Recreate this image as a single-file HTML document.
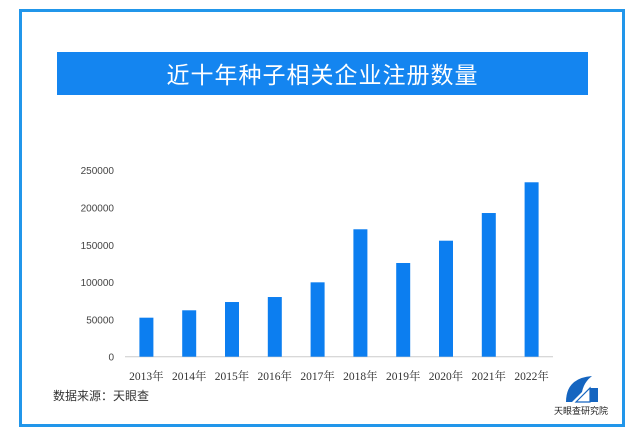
<!DOCTYPE html>
<html><head><meta charset="utf-8"><style>
body{margin:0;width:644px;height:431px;background:#fff;overflow:hidden;font-family:"Liberation Sans","Noto Sans CJK SC",sans-serif;}
#frame{position:absolute;left:19px;top:9px;width:600px;height:412px;border:3px solid #2196ea;}
#title{position:absolute;left:57px;top:52px;width:531px;height:43px;background:#1485f0;color:#fff;font-size:23px;line-height:43px;text-align:center;font-family:"Noto Sans CJK SC",sans-serif;letter-spacing:1px;}
svg{position:absolute;left:0;top:0;}
</style></head><body>
<div id="frame"></div>
<div id="title">近十年种子相关企业注册数量</div>
<svg id="chart" width="644" height="431">
<text x="53" y="400" font-size="12" fill="#333" font-family="Noto Sans CJK SC, sans-serif">数据来源：天眼查</text>
<g>
<path d="M566 402 Q566 378 592 376 Q584 382 582 392 L572 402 Z" fill="#1565c0"/>
<path d="M576 402 L590 388 L590 402 Z" fill="#fff" stroke="#1565c0" stroke-width="1.2"/>
<rect x="590" y="388" width="8" height="14" fill="#1565c0"/>
<text x="581" y="414" font-size="9" fill="#222" text-anchor="middle" font-family="Noto Sans CJK SC, sans-serif">天眼查研究院</text>
</g>
</svg>
<script>
const categories=["2013年","2014年","2015年","2016年","2017年","2018年","2019年","2020年","2021年","2022年"];
const values=[52300,62200,73300,80000,99700,170800,125600,155500,192600,233800];
const yTicks=[0,50000,100000,150000,200000,250000];
const svg=document.getElementById('chart');
const NS='http://www.w3.org/2000/svg';
const y0=356.7,yTop=170.2,yMax=250000;
const x0=125,x1=553;
function yScale(v){return y0-(v/yMax)*(y0-yTop);}
function xScale(i){return x0+(x1-x0)*(i+0.5)/categories.length;}
function mk(tag,attrs){const e=document.createElementNS(NS,tag);for(const k in attrs)e.setAttribute(k,attrs[k]);svg.appendChild(e);return e;}
yTicks.forEach(t=>{
  const e=mk('text',{x:114,y:yScale(t)+4,'font-size':10,fill:'#444','text-anchor':'end'});
  e.textContent=t;
  
  
});
const ax=mk('line',{x1:x0,x2:x1,y1:y0,y2:y0,stroke:'#ccc','stroke-width':1});


categories.forEach((c,i)=>{
  const cx=xScale(i);
  const r=mk('rect',{x:cx-7,y:yScale(values[i]),width:14,height:y0-yScale(values[i]),fill:'#0c7ef0'});
  
  
  const t=mk('text',{x:cx,y:380,'font-size':11.5,fill:'#333','text-anchor':'middle','font-family':'Liberation Serif, Noto Serif CJK SC, serif'});
  t.textContent=c;
  
  
});
</script>
</body></html>
